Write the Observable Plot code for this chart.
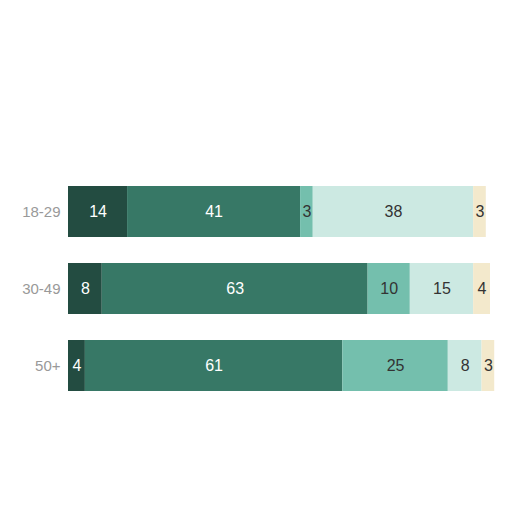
<!DOCTYPE html>
<html>
<head>
<meta charset="utf-8">
<script src="https://cdn.jsdelivr.net/npm/d3@7"></script>
<script src="https://cdn.jsdelivr.net/npm/@observablehq/plot@0.6"></script>
<style>
  html, body { margin: 0; padding: 0; background: #fff; }
  svg { display: block; }
</style>
</head>
<body>
<div id="chart"></div>
<script>
const ages = ["18-29", "30-49", "50+"];
const segments = ["s1", "s2", "s3", "s4", "s5"];
const colors = ["#234c41", "#377866", "#74bfad", "#cce9e2", "#f3e9cc"];
const textColors = ["#ffffff", "#ffffff", "#333333", "#333333", "#333333"];
const row1 = [14, 41, 3, 38, 3];
const row2 = [8, 63, 10, 15, 4];
const row3 = [4, 61, 25, 8, 3];
const rows = [row1, row2, row3];

const data = [];
ages.forEach((age, i) => {
  rows[i].forEach((v, j) => {
    data.push({age, seg: segments[j], value: v, tc: textColors[j]});
  });
});

const chart = Plot.plot({
  width: 512,
  height: 512,
  marginLeft: 68,
  marginRight: 22,
  marginTop: 185,
  marginBottom: 119,
  style: {fontFamily: "'Liberation Sans', Arial, sans-serif", background: "#fff"},
  x: {domain: [0, 100], axis: null},
  y: {domain: ages, paddingInner: 0.333, paddingOuter: 0, label: null},
  color: {domain: segments, range: colors},
  marks: [
    Plot.barX(data, Plot.stackX({x: "value", y: "age", z: "seg", fill: "seg", order: null})),
    Plot.text(data, Plot.stackX({x: "value", y: "age", z: "seg", text: d => String(d.value), fill: "tc", order: null, fontSize: 16})),
    Plot.axisY({tickSize: 0, tickPadding: 8, fontSize: 15, color: "#999"})
  ]
});
document.getElementById("chart").append(chart);
</script>
</body>
</html>
